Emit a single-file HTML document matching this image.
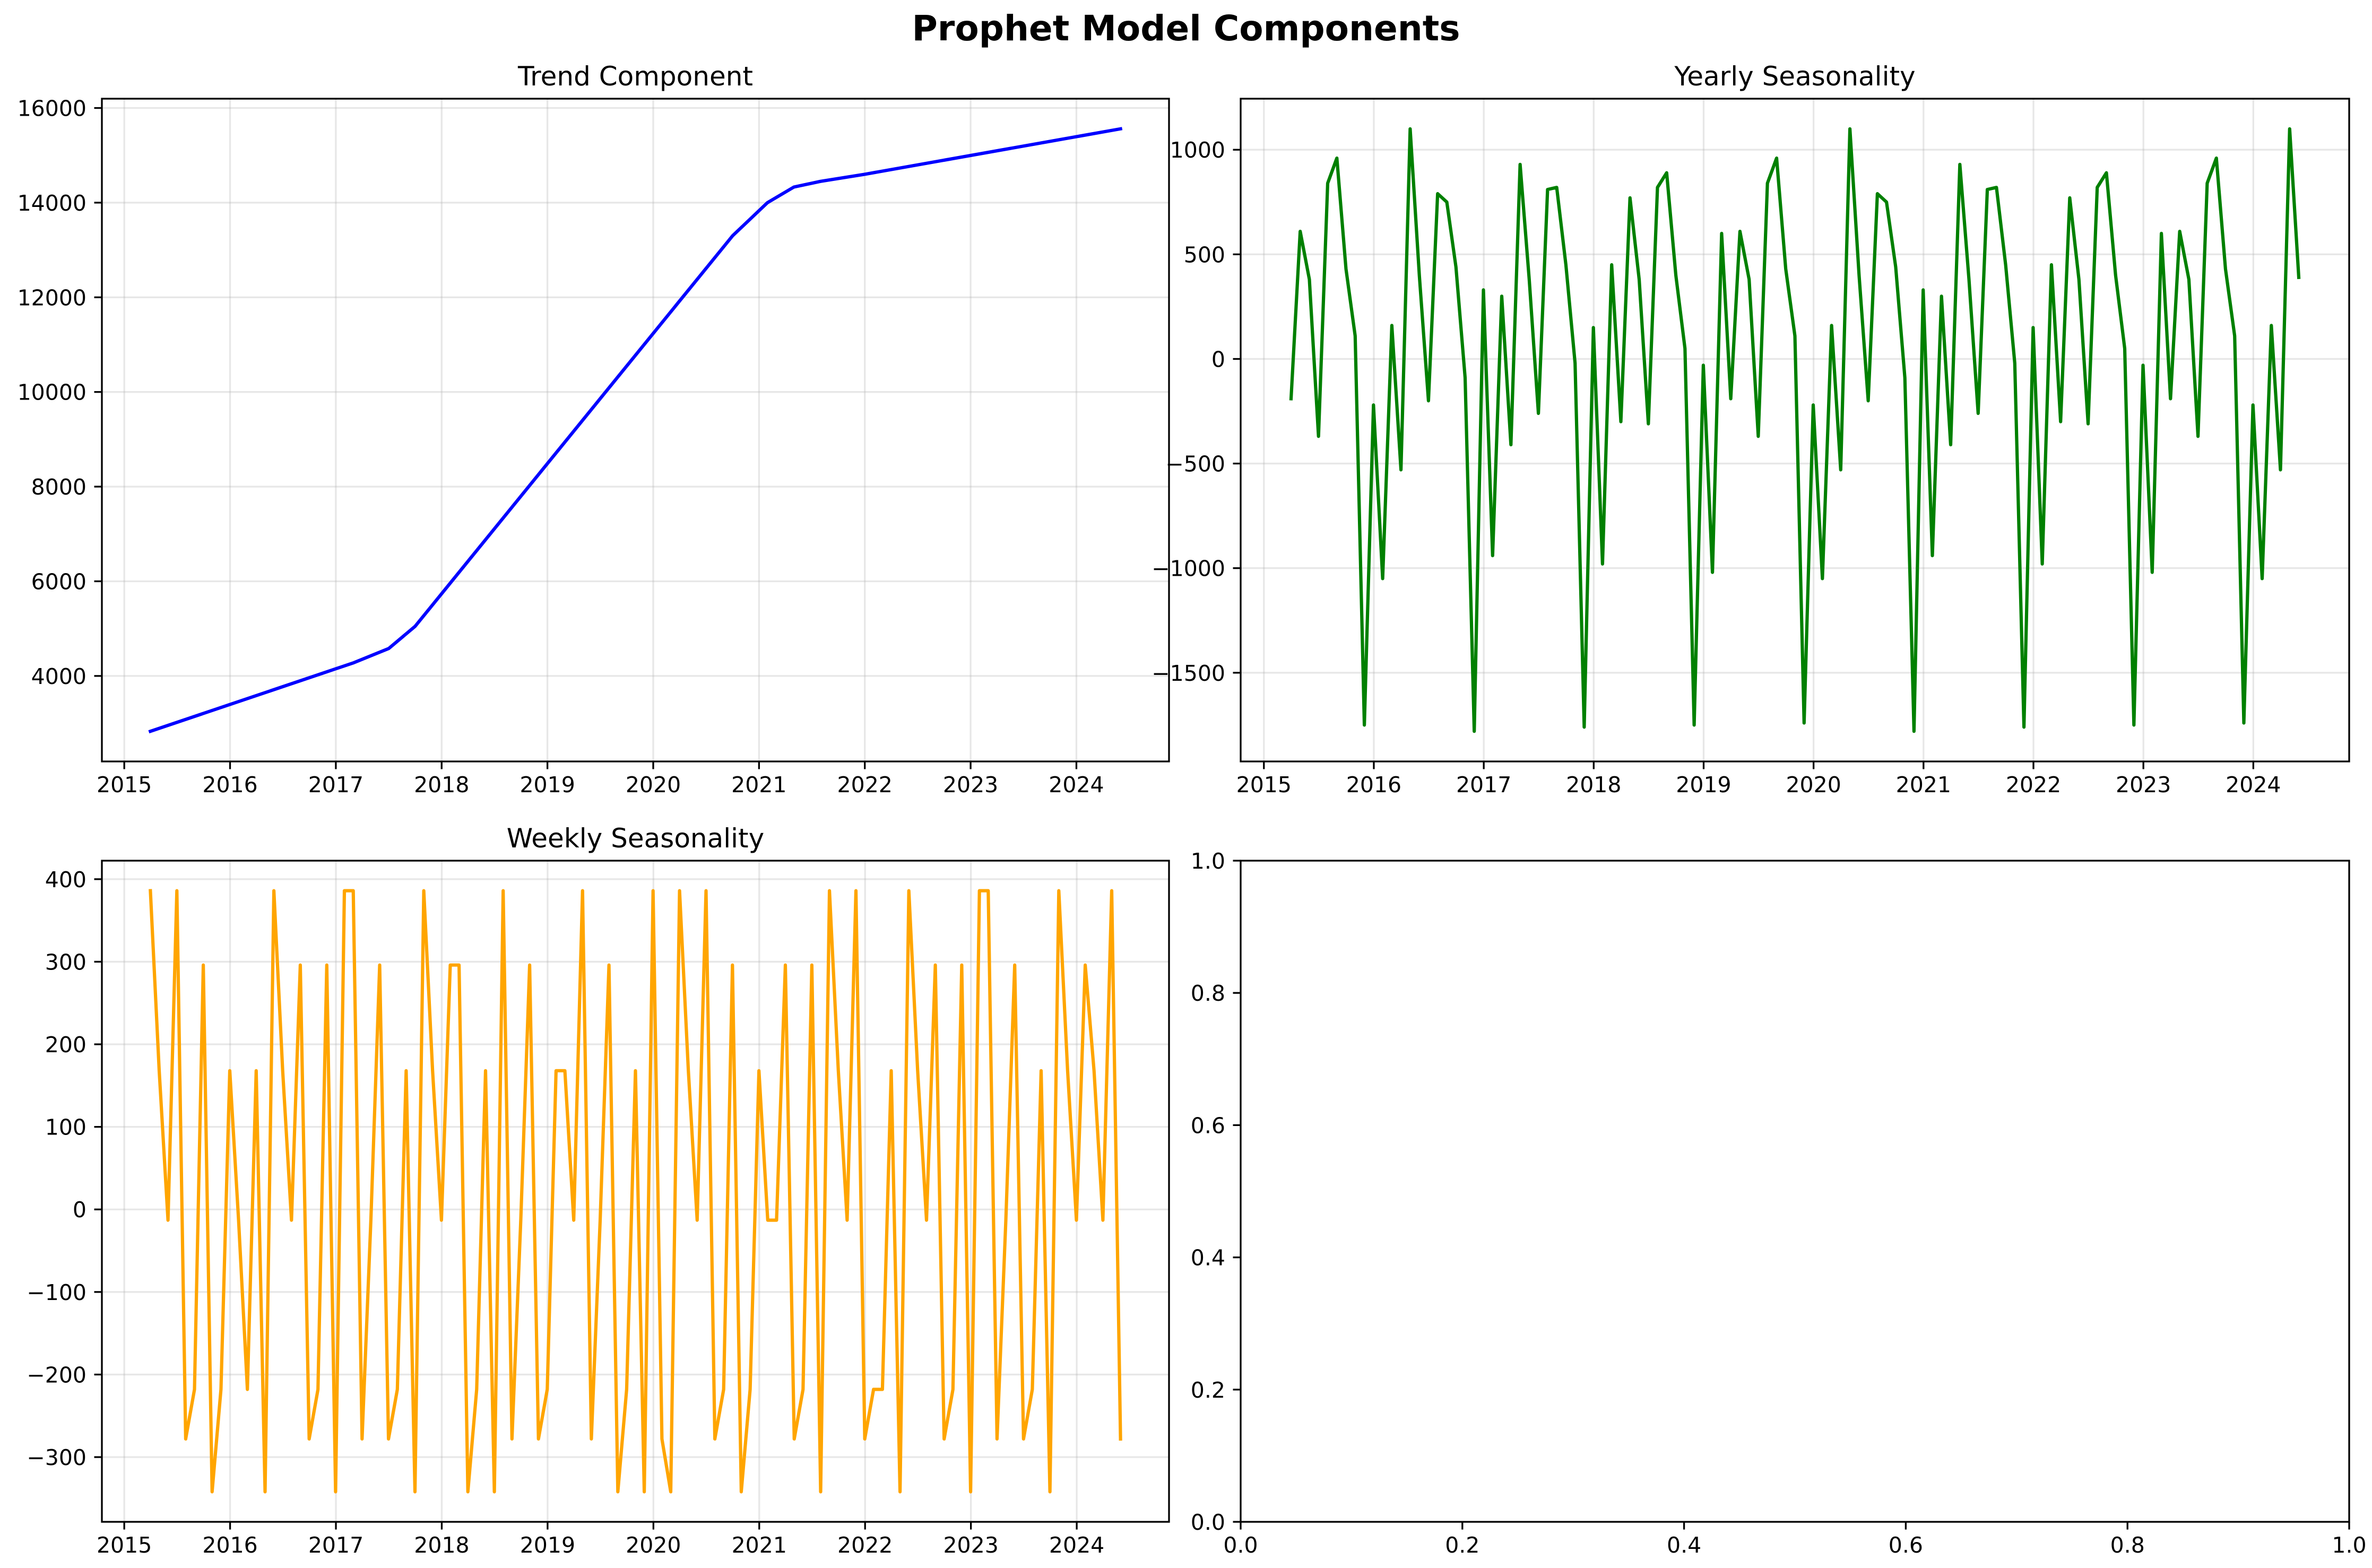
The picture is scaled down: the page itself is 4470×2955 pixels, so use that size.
<!DOCTYPE html>
<html><head><meta charset="utf-8"><style>
html,body{margin:0;padding:0;background:#fff}
svg{display:block;font-family:"DejaVu Sans","Liberation Sans",sans-serif}
</style></head><body>
<svg id="fig" width="4470" height="2955" viewBox="0 0 4470 2955" xmlns="http://www.w3.org/2000/svg">
<rect width="4470" height="2955" fill="#fff"/>
<text x="2235" y="76" text-anchor="middle" font-size="66" font-weight="bold">Prophet Model Components</text>
</svg>
<script>
// ---- data ----
const trendDates = [2015.247, 2017.17, 2017.5, 2017.75, 2020.75, 2021.08, 2021.33, 2021.58, 2022.0, 2024.417];
const trendValues = [2830, 4280, 4580, 5050, 13300, 14000, 14330, 14450, 14600, 15560];
const monthStartYear = 2015;
const monthStartMonth = 4; // April 2015
const yearlyValues = [
-190,610,380,-370,840,960,430,110,-1750,-220,-1050,160,
-530,1100,400,-200,790,750,440,-90,-1780,330,-940,300,
-410,930,380,-260,810,820,450,-20,-1760,150,-980,450,
-300,770,380,-310,820,890,400,50,-1750,-30,-1020,600,
-190,610,380,-370,840,960,430,110,-1740,-220,-1050,160,
-530,1100,400,-200,790,750,440,-90,-1780,330,-940,300,
-410,930,380,-260,810,820,450,-20,-1760,150,-980,450,
-300,770,380,-310,820,890,400,50,-1750,-30,-1020,600,
-190,610,380,-370,840,960,430,110,-1740,-220,-1050,160,
-530,1100,390];
const weeklyValues = [
386,168,-13,386,-278,-218,296,-342,-218,
168,-13,-218,168,-342,386,168,-13,296,-278,-218,296,
-342,386,386,-278,-13,296,-278,-218,168,-342,386,168,
-13,296,296,-342,-218,168,-342,386,-278,-13,296,-278,
-218,168,168,-13,386,-278,-13,296,-342,-218,168,-342,
386,-278,-342,386,168,-13,386,-278,-218,296,-342,-218,
168,-13,-13,296,-278,-218,296,-342,386,168,-13,386,
-278,-218,-218,168,-342,386,168,-13,296,-278,-218,296,
-342,386,386,-278,-13,296,-278,-218,168,-342,386,168,
-13,296,168,-13,386,-278];
const yearTicks = [2015,2016,2017,2018,2019,2020,2021,2022,2023,2024];
const trendTicks = [4000,6000,8000,10000,12000,14000,16000];
const yearlyTicks = [-1500,-1000,-500,0,500,1000];
const weeklyTicks = [-300,-200,-100,0,100,200,300,400];
const unitTicks = [0.0,0.2,0.4,0.6,0.8,1.0];

const NS = 'http://www.w3.org/2000/svg';
const svg = document.getElementById('fig');
function el(tag, attrs, parent){const e=document.createElementNS(NS,tag);for(const k in attrs)e.setAttribute(k,attrs[k]);(parent||svg).appendChild(e);return e;}
function monthDate(i){const m=monthStartMonth-1+i;return monthStartYear+Math.floor(m/12)+((m%12)+0.0)/12 - 0.003;}
function lim(arr){const mn=Math.min(...arr),mx=Math.max(...arr),p=(mx-mn)*0.05;return [mn-p,mx+p];}

function axes(name, L,R,T,B, xl, yl, xt, yt, xfmt, yfmt, grid, title){
  const g=el('g',{});
  
  
  const sx=v=>L+(v-xl[0])/(xl[1]-xl[0])*(R-L);
  const sy=v=>B-(v-yl[0])/(yl[1]-yl[0])*(B-T);
  if(grid){
    xt.forEach(v=>{const l=el('line',{x1:sx(v),x2:sx(v),y1:T,y2:B,stroke:'#b0b0b0','stroke-opacity':0.3,'stroke-width':3.3},g);
      
      });
    yt.forEach(v=>{const l=el('line',{x1:L,x2:R,y1:sy(v),y2:sy(v),stroke:'#b0b0b0','stroke-opacity':0.3,'stroke-width':3.3},g);
      
      });
  }
  xt.forEach(v=>{const x=sx(v);el('line',{x1:x,x2:x,y1:B,y2:B+14.5,stroke:'#000','stroke-width':3.3},g);
    const t=el('text',{x:x,y:B+58,'text-anchor':'middle','font-size':41},g);t.textContent=xfmt(v);
    
    });
  yt.forEach(v=>{const y=sy(v);el('line',{x1:L-14.5,x2:L,y1:y,y2:y,stroke:'#000','stroke-width':3.3},g);
    const t=el('text',{x:L-29,y:y+15,'text-anchor':'end','font-size':41},g);t.textContent=yfmt(v);
    
    });
  if(title){const t=el('text',{x:(L+R)/2,y:T-25,'text-anchor':'middle','font-size':50},g);t.textContent=title;
    
    }
  return {g,sx,sy,L,R,T,B};
}
function frame(a){const r=el('rect',{x:a.L,y:a.T,width:a.R-a.L,height:a.B-a.T,fill:'none',stroke:'#000','stroke-width':3.3},a.g);
  
  }
function line(a, xs, ys, color, name){
  const d=xs.map((x,i)=>(i?'L':'M')+a.sx(x).toFixed(1)+' '+a.sy(ys[i]).toFixed(1)).join(' ');
  const p=el('path',{d:d,fill:'none',stroke:color,'stroke-width':6.2,'stroke-linejoin':'round','stroke-linecap':'square'},a.g);
  
  
}
const fmtInt=v=>String(v).replace('-','\u2212');
const fmtYear=v=>String(v);

const monthX=yearlyValues.map((_,i)=>monthDate(i));
const monthXW=weeklyValues.map((_,i)=>monthDate(i));

// Trend
const xlT=lim(trendDates);
const aT=axes('trend-panel',192,2203,186,1435,xlT,lim(trendValues),yearTicks,trendTicks,fmtYear,fmtInt,true,'Trend Component');
line(aT,trendDates,trendValues,'#0000ff','trend-line');frame(aT);
// Yearly
const aY=axes('yearly-panel',2338,4427,186,1435,lim(monthX),lim(yearlyValues),yearTicks,yearlyTicks,fmtYear,fmtInt,true,'Yearly Seasonality');
line(aY,monthX,yearlyValues,'#008000','yearly-line');frame(aY);
// Weekly
const aW=axes('weekly-panel',192,2203,1622,2868,lim(monthXW),lim(weeklyValues),yearTicks,weeklyTicks,fmtYear,fmtInt,true,'Weekly Seasonality');
line(aW,monthXW,weeklyValues,'#ffa500','weekly-line');frame(aW);
// Empty
const aE=axes('empty-panel',2338,4427,1622,2868,[0,1],[0,1],unitTicks,unitTicks,v=>v.toFixed(1),v=>v.toFixed(1),false,'');
frame(aE);
</script>
</body></html>
